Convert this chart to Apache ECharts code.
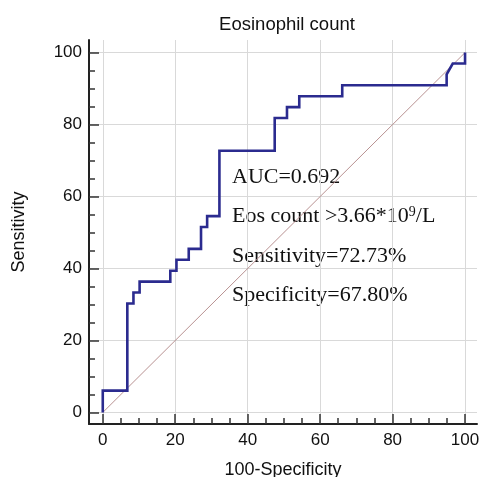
<!DOCTYPE html>
<html>
<head>
<meta charset="utf-8">
<script src="https://cdn.jsdelivr.net/npm/echarts@6/dist/echarts.min.js"></script>
<style>
html,body{margin:0;padding:0;background:#fff;}
#chart{width:480px;height:477px;}
</style>
</head>
<body>
<div id="chart"></div>
<script>
// ROC curve points: 100-Specificity (x) and Sensitivity (y)
var rocX = [0, 0, 6.78, 6.78, 8.47, 8.47, 10.17, 10.17, 18.64, 18.64, 20.34, 20.34, 23.73, 23.73, 27.12, 27.12, 28.81, 28.81, 32.20, 32.20, 47.46, 47.46, 50.85, 50.85, 54.24, 54.24, 66.10, 66.10, 94.92, 94.92, 96.61, 100, 100];
var rocY = [0, 6.06, 6.06, 30.30, 30.30, 33.33, 33.33, 36.36, 36.36, 39.39, 39.39, 42.42, 42.42, 45.45, 45.45, 51.52, 51.52, 54.55, 54.55, 72.73, 72.73, 81.82, 81.82, 84.85, 84.85, 87.88, 87.88, 90.91, 90.91, 93.94, 96.97, 96.97, 100];
var diagX = [0, 100];
var diagY = [0, 100];
var majorTicks = [0, 20, 40, 60, 80, 100];
var minorTicks = [0, 5, 10, 15, 20, 25, 30, 35, 40, 45, 50, 55, 60, 65, 70, 75, 80, 85, 90, 95, 100];
var titleText = 'Eosinophil count';
var xName = '100-Specificity';
var yName = 'Sensitivity';
var annotations = ['AUC=0.692', '{a|Eos count >3.66*10}{s|9}{a|/L}', 'Sensitivity=72.73%', 'Specificity=67.80%'];

var rocData = rocX.map(function (x, i) { return [x, rocY[i]]; });
var diagData = diagX.map(function (x, i) { return [x, diagY[i]]; });

var sans = '"Liberation Sans", Arial, sans-serif';
var serif = '"Liberation Serif", "Times New Roman", serif';
var XMIN = -3.8, XMAX = 103.3, YMIN = -3.2, YMAX = 103.5;

var chart = echarts.init(document.getElementById('chart'), null, {renderer: 'canvas'});
var annY = [177, 216, 256, 295];
var graphics = [{
  type: 'text', x: 287, y: 25,
  style: {text: titleText, font: '18.5px ' + sans, fill: '#111', align: 'center', verticalAlign: 'middle'}
}];
annotations.forEach(function (t, i) {
  graphics.push({
    type: 'text', x: 232, y: annY[i],
    style: {
      text: t, fontFamily: serif, fontSize: 22, fill: '#111', align: 'left', verticalAlign: 'middle',
      rich: {
        a: {fontFamily: serif, fontSize: 22, fill: '#111', color: '#111'},
        s: {fontFamily: serif, fontSize: 14, fill: '#111', color: '#111', verticalAlign: 'top', lineHeight: 22}
      }
    }
  });
});

chart.setOption({
  animation: false,
  backgroundColor: '#fff',
  grid: {left: 89, right: 3, top: 40, bottom: 53, containLabel: false, outerBoundsMode: 'none'},
  xAxis: [{
    type: 'value', min: XMIN, max: XMAX, position: 'bottom',
    name: xName, nameLocation: 'middle', nameGap: 37,
    nameTextStyle: {fontFamily: sans, fontSize: 18, color: '#111'},
    axisLine: {show: true, onZero: false, lineStyle: {color: '#222', width: 2}},
    axisTick: {show: true, inside: true, length: 10, customValues: majorTicks, lineStyle: {color: '#333', width: 1.5}},
    axisLabel: {show: true, customValues: majorTicks, margin: 8, fontFamily: sans, fontSize: 17, color: '#111'},
    splitLine: {show: true, lineStyle: {color: '#d9d9d9', width: 1}}
  }, {
    type: 'value', min: XMIN, max: XMAX, position: 'bottom',
    axisLine: {show: false, onZero: false},
    axisTick: {show: true, inside: true, length: 6, customValues: minorTicks, lineStyle: {color: '#333', width: 1.5}},
    axisLabel: {show: false},
    splitLine: {show: false}
  }],
  yAxis: [{
    type: 'value', min: YMIN, max: YMAX, position: 'left',
    name: yName, nameLocation: 'middle', nameGap: 61, nameRotate: 90,
    nameTextStyle: {fontFamily: sans, fontSize: 18, color: '#111'},
    axisLine: {show: true, onZero: false, lineStyle: {color: '#222', width: 2}},
    axisTick: {show: true, inside: true, length: 10, customValues: majorTicks, lineStyle: {color: '#333', width: 1.5}},
    axisLabel: {show: true, customValues: majorTicks, margin: 7, fontFamily: sans, fontSize: 17, color: '#111'},
    splitLine: {show: true, lineStyle: {color: '#d9d9d9', width: 1}}
  }, {
    type: 'value', min: YMIN, max: YMAX, position: 'left',
    axisLine: {show: false, onZero: false},
    axisTick: {show: true, inside: true, length: 6, customValues: minorTicks, lineStyle: {color: '#333', width: 1.5}},
    axisLabel: {show: false},
    splitLine: {show: false}
  }],
  series: [{
    type: 'line', data: diagData, xAxisIndex: 0, yAxisIndex: 0,
    symbol: 'none', silent: true,
    lineStyle: {color: '#b99292', width: 1}, z: 2
  }, {
    type: 'line', data: rocData, xAxisIndex: 0, yAxisIndex: 0,
    symbol: 'none', silent: true,
    lineStyle: {color: '#2b2b8f', width: 2.6, join: 'miter'}, z: 3
  }],
  graphic: graphics
});
</script>
</body>
</html>
